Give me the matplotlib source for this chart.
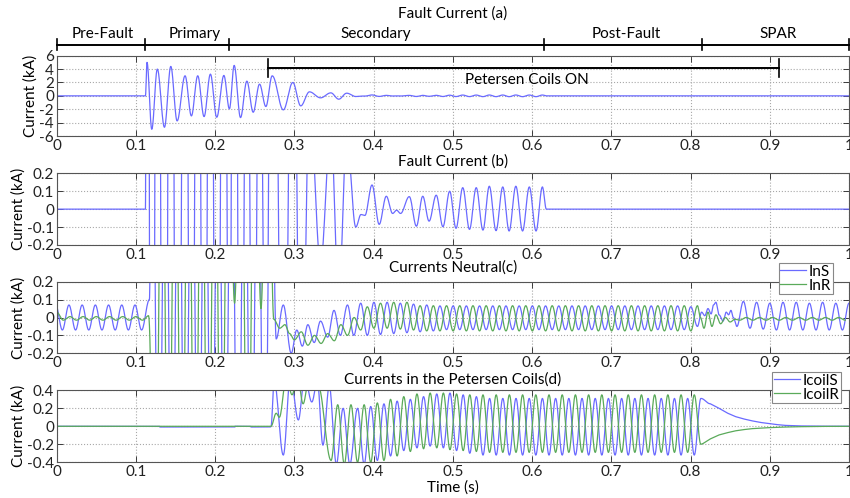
import numpy as np
import matplotlib
matplotlib.use("Agg")
import matplotlib.pyplot as plt

plt.rcParams["font.family"] = ["Lato", "DejaVu Sans"]
plt.rcParams["axes.unicode_minus"] = False

HALF = 1 / 120  # half a 60 Hz cycle (s)
FS = 11

# ---- fault current (kA): times and values of the turning points ----
fault_t = [0.0, 0.112, 0.114, 0.120, 0.127, 0.136, 0.144, 0.152, 0.162, 0.170,
           0.178, 0.186, 0.194, 0.202, 0.211, 0.218, 0.224, 0.232, 0.240, 0.248,
           0.256, 0.264, 0.272, 0.286, 0.298, 0.308, 0.319, 0.333, 0.346, 0.356,
           0.366, 0.3775, 0.384, 0.389, 0.398, 0.407, 0.416, 0.424, 0.429, 0.434,
           0.445, 0.454, 0.462, 0.470, 0.479, 0.4875, 0.496, 0.504, 0.5125, 0.521,
           0.5295, 0.538, 0.546, 0.5545, 0.563, 0.571, 0.5795, 0.588, 0.5965, 0.605,
           0.613, 0.618, 1.0]
fault_v = [0.0, 0.0, 5.0, -5.0, 4.0, -4.7, 4.4, -3.75, 3.0, -3.0,
           3.0, -3.1, 3.25, -3.2, 3.05, -1.95, 4.55, -3.25, 2.2, -2.45,
           1.75, -1.6, 3.0, -2.1, 2.0, -1.5, 0.6, -0.3, 0.45, -0.5,
           0.4, -0.10, -0.03, -0.035, 0.135, -0.085, 0.072, -0.024, -0.006, -0.024,
           0.07, -0.095, 0.072, -0.067, 0.078, -0.098, 0.10, -0.107, 0.12, -0.113,
           0.12, -0.117, 0.128, -0.12, 0.124, -0.122, 0.128, -0.122, 0.124, -0.122,
           0.124, 0.0, 0.0]

# ---- neutral currents (kA) ----
ins_pre_t0, ins_pre_v = -0.0012, [0.07, -0.07] * 7
ins_step_t, ins_step_v = [0.117], [0.1]
ins_fault_t0, ins_fault_v = 0.1205, [1.5, -1.5] * 9 + [1.5]
ins_after_t = [0.277, 0.286, 0.296, 0.303, 0.310, 0.317, 0.325, 0.333, 0.342,
               0.350, 0.358, 0.367, 0.375]
ins_after_v = [-0.12, 0.07, -0.2, -0.07, -0.16, -0.04, -0.14, -0.02, -0.11,
               0.04, -0.10, 0.07, -0.10]
ins_run_t0 = 0.3837
ins_run_v = ([0.08, -0.1, 0.085, -0.095, 0.085, -0.09, 0.08, -0.085, 0.075, -0.08,
              0.07, -0.075] + [0.065, -0.068] * 19 + [0.06])
ins_open_t = [0.8087, 0.814, 0.818, 0.822, 0.826, 0.829, 0.832, 0.836, 0.841,
              0.845, 0.848, 0.851, 0.854, 0.8585]
ins_open_v = [-0.05, 0.03, 0.01, 0.05, 0.02, 0.07, 0.085, 0.015, -0.02,
              0.03, 0.015, 0.04, 0.0, -0.05]
ins_spar_t0 = 0.8667
ins_spar_v = [0.09, -0.06, 0.085, -0.065, 0.08, -0.07, 0.085, -0.07, 0.085,
              -0.07, 0.08, -0.07, 0.085, -0.07, 0.08, -0.07, 0.08]

inr_pre_t0, inr_pre_v = 0.0, [0.03] + [-0.015, 0.005] * 6 + [-0.015]
inr_step_t, inr_step_v = [0.116], [0.01]
inr_fault_t0 = 0.1245
inr_fault_v = [-1.5, 1.5, -1.5, 1.5, -1.5, 1.5, -1.5, 1.5, -1.5, 1.5,
               -1.5, 1.5, 0.08, 1.5, -1.5, 1.5, 0.05, 1.5]
inr_after_t = [0.274, 0.2815, 0.288, 0.294, 0.300]
inr_after_v = [-0.01, -0.06, -0.04, -0.09, -0.125]
inr_run_t0 = 0.3087
inr_run_v = ([-0.08, -0.155, -0.1, -0.145, -0.09, -0.13, -0.04, -0.1, 0.0, -0.07,
              0.06, -0.06, 0.08, -0.06, 0.085, -0.065, 0.085, -0.07]
             + [0.066, -0.075] * 21 + [0.066])
inr_open_t = [0.8125, 0.817, 0.822, 0.827, 0.832, 0.838, 0.844, 0.850, 0.856]
inr_open_v = [0.0, -0.06, 0.03, -0.05, 0.015, -0.035, 0.0, -0.025, -0.01]
inr_spar_t0 = 0.862
inr_spar_v = [-0.015, 0.0] * 8 + [-0.015]

# ---- Petersen coil currents (kA) ----
coils_pre_t = [0.0, 0.13, 0.1302, 0.225, 0.2252, 0.245, 0.2452, 0.27, 0.2705]
coils_pre_v = [0.0, 0.0, -0.008, -0.008, 0.0, 0.0, -0.008, -0.008, 0.0]
coils_after_t = [0.2745, 0.286, 0.295, 0.305, 0.313, 0.322, 0.329, 0.336, 0.344,
                 0.353, 0.3615, 0.370]
coils_after_v = [0.5, -0.32, 0.55, 0.07, 0.55, 0.27, 0.5, -0.21, 0.45,
                 -0.42, 0.2, -0.42]
coils_run_t0 = 0.3797
coils_run_v = ([0.2, -0.42, 0.22, -0.38, 0.25, -0.33, 0.28, -0.27, 0.3, -0.24,
                0.33, -0.22, 0.36, -0.24, 0.37, -0.27, 0.35, -0.3, 0.33, -0.32]
               + [0.31, -0.32] * 16 + [0.31])
coils_decay_t = [0.825, 0.836, 0.847, 0.857, 0.868, 0.878, 0.889, 0.899, 0.91,
                 0.92, 0.94, 0.97, 1.0]
coils_decay_v = [0.25, 0.2, 0.145, 0.107, 0.08, 0.06, 0.042, 0.03, 0.018,
                 0.01, 0.004, 0.001, 0.0]

coilr_pre_t = [0.0, 0.2705]
coilr_pre_v = [0.0, 0.0]
coilr_after_t = [0.277, 0.281, 0.29, 0.297, 0.304, 0.311, 0.318, 0.325, 0.33,
                 0.3463, 0.3547, 0.363, 0.3714]
coilr_after_v = [0.145, 0.1, 0.55, 0.35, 0.55, 0.25, 0.5, 0.4, 0.45,
                 -0.38, 0.24, -0.42, 0.24]
coilr_run_t0 = 0.3797
coilr_run_v = ([-0.4, 0.24, -0.4, 0.26, -0.38, 0.3, -0.33, 0.33, -0.28, 0.36,
                -0.25, 0.37, -0.24, 0.37, -0.26, 0.36, -0.27, 0.35, -0.28, 0.35]
               + [-0.29, 0.35] * 16 + [-0.2])
coilr_decay_t = [0.816, 0.825, 0.836, 0.847, 0.857, 0.868, 0.878, 0.889, 0.899,
                 0.92, 0.94, 0.97, 1.0]
coilr_decay_v = [-0.19, -0.14, -0.096, -0.07, -0.05, -0.036, -0.026, -0.02, -0.015,
                 -0.008, -0.004, -0.001, 0.0]

# stages of the event along the time axis
stage_edges = [0.0, 0.112, 0.218, 0.615, 0.815, 1.0]
stage_names = ["Pre-Fault", "Primary", "Secondary", "Post-Fault", "SPAR"]
stage_label_x = [0.058, 0.174, 0.403, 0.719, 0.910]
coils_on = [0.267, 0.912]

xticks = [0, 0.1, 0.2, 0.3, 0.4, 0.5, 0.6, 0.7, 0.8, 0.9, 1]
xticklabels = ["0", "0.1", "0.2", "0.3", "0.4", "0.5", "0.6", "0.7", "0.8", "0.9", "1"]


def run(t0, values):
    return [t0 + k * HALF for k in range(len(values))], list(values)


def trace(parts, n=16):
    # turning points joined by half-cosine arcs; parts marked linear are joined straight
    T, V, L = [], [], []
    for times, vals, linear in parts:
        T += list(times)
        V += list(vals)
        L += [linear] * len(times)
    ts, vs = [], []
    for i in range(len(T) - 1):
        if L[i] and L[i + 1]:
            s = np.array([0.0])
            w = s
        else:
            s = np.linspace(0, 1, n, endpoint=False)
            w = (1 - np.cos(np.pi * s)) / 2
        ts.append(T[i] + (T[i + 1] - T[i]) * s)
        vs.append(V[i] + (V[i + 1] - V[i]) * w)
    ts.append([T[-1]])
    vs.append([V[-1]])
    return np.concatenate(ts), np.concatenate(vs)


fault = trace([(fault_t, fault_v, False)])
ins = trace([(*run(ins_pre_t0, ins_pre_v), False), (ins_step_t, ins_step_v, False),
             (*run(ins_fault_t0, ins_fault_v), False), (ins_after_t, ins_after_v, False),
             (*run(ins_run_t0, ins_run_v), False), (ins_open_t, ins_open_v, False),
             (*run(ins_spar_t0, ins_spar_v), False)])
inr = trace([(*run(inr_pre_t0, inr_pre_v), False), (inr_step_t, inr_step_v, False),
             (*run(inr_fault_t0, inr_fault_v), False), (inr_after_t, inr_after_v, False),
             (*run(inr_run_t0, inr_run_v), False), (inr_open_t, inr_open_v, False),
             (*run(inr_spar_t0, inr_spar_v), False)])
coils = trace([(coils_pre_t, coils_pre_v, False), (coils_after_t, coils_after_v, False),
               (*run(coils_run_t0, coils_run_v), False),
               (coils_decay_t, coils_decay_v, True)])
coilr = trace([(coilr_pre_t, coilr_pre_v, False), (coilr_after_t, coilr_after_v, False),
               (*run(coilr_run_t0, coilr_run_v), False),
               (coilr_decay_t, coilr_decay_v, True)])

BLUE = "#6a6aff"
GREEN = "#5aaa5a"
W, H = 850, 498

fig = plt.figure(figsize=(8.5, 4.98), dpi=100)


def panel(top, bottom, ylim, yticks, ylabels):
    ax = fig.add_axes([56.7 / W, 1 - bottom / H, (849 - 56.7) / W, (bottom - top) / H])
    ax.set_xlim(0, 1)
    ax.set_ylim(*ylim)
    ax.set_xticks(xticks)
    ax.set_xticklabels(xticklabels)
    ax.set_yticks(yticks)
    ax.set_yticklabels(ylabels)
    ax.grid(True, linestyle=":", color="#a8a8a8", linewidth=0.8)
    ax.tick_params(direction="in", top=True, right=True, length=4, width=0.6,
                   labelsize=FS, pad=2, colors="#222222")
    for sp in ax.spines.values():
        sp.set_color("#555555")
        sp.set_linewidth(0.8)
    ax.set_ylabel("Current (kA)", fontsize=FS, labelpad=1)
    return ax


ax1 = panel(55.7, 136, (-6, 6), [-6, -4, -2, 0, 2, 4, 6],
            ["-6", "-4", "-2", "0", "2", "4", "6"])
ax2 = panel(173.3, 245, (-0.2, 0.2), [-0.2, -0.1, 0, 0.1, 0.2],
            ["-0.2", "-0.1", "0", "0.1", "0.2"])
ax3 = panel(281.7, 353.3, (-0.2, 0.2), [-0.2, -0.1, 0, 0.1, 0.2],
            ["-0.2", "-0.1", "0", "0.1", "0.2"])
ax4 = panel(390.3, 462.3, (-0.4, 0.4), [-0.4, -0.2, 0, 0.2, 0.4],
            ["-0.4", "-0.2", "0", "0.2", "0.4"])

ax1.plot(*fault, color=BLUE, lw=0.9)
ax2.plot(*fault, color=BLUE, lw=0.9)
ax3.plot(*ins, color=BLUE, lw=0.9, label="InS")
ax3.plot(*inr, color=GREEN, lw=0.9, label="InR")
ax4.plot(*coils, color=BLUE, lw=0.9, label="IcoilS")
ax4.plot(*coilr, color=GREEN, lw=0.9, label="IcoilR")

# stage bar above panel (a)
tr = ax1.get_xaxis_transform()
ax1.plot([0, 1], [1.133, 1.133], transform=tr, color="black", lw=1.4, clip_on=False)
for e in stage_edges:
    ax1.plot([e, e], [1.065, 1.205], transform=tr, color="black", lw=1.2, clip_on=False)
for name, x in zip(stage_names, stage_label_x):
    ax1.text(x, 1.27, name, transform=tr, ha="center", va="center", fontsize=FS)

# Petersen coils switched in
ax1.plot(coils_on, [4.1, 4.1], color="black", lw=1.4)
for e in coils_on:
    ax1.plot([e, e], [2.8, 5.45], color="black", lw=1.2)
ax1.text(0.593, 2.35, "Petersen Coils ON", ha="center", va="center", fontsize=FS)

xc = (56.7 + 849) / 2 / W
fig.text(xc, 1 - 14 / H, "Fault Current (a)", ha="center", va="center", fontsize=FS)
fig.text(xc, 1 - 162 / H, "Fault Current (b)", ha="center", va="center", fontsize=FS)
fig.text(xc, 1 - 268 / H, "Currents Neutral(c)", ha="center", va="center", fontsize=FS)
fig.text(xc, 1 - 380 / H, "Currents in the Petersen Coils(d)", ha="center",
         va="center", fontsize=FS)
fig.text(xc, 1 - 488 / H, "Time (s)", ha="center", va="center", fontsize=FS)

for ax, anchor in ((ax3, (833, 263)), (ax4, (841, 372))):
    leg = ax.legend(loc="upper right", bbox_to_anchor=(anchor[0] / W, 1 - anchor[1] / H),
                    bbox_transform=fig.transFigure, fontsize=FS, fancybox=False,
                    framealpha=1, edgecolor="#888888", borderpad=0.1, labelspacing=0.0,
                    handlelength=1.7, handletextpad=0.2, borderaxespad=0)
    leg.get_frame().set_linewidth(0.8)

fig.savefig("out.png", dpi=100)
